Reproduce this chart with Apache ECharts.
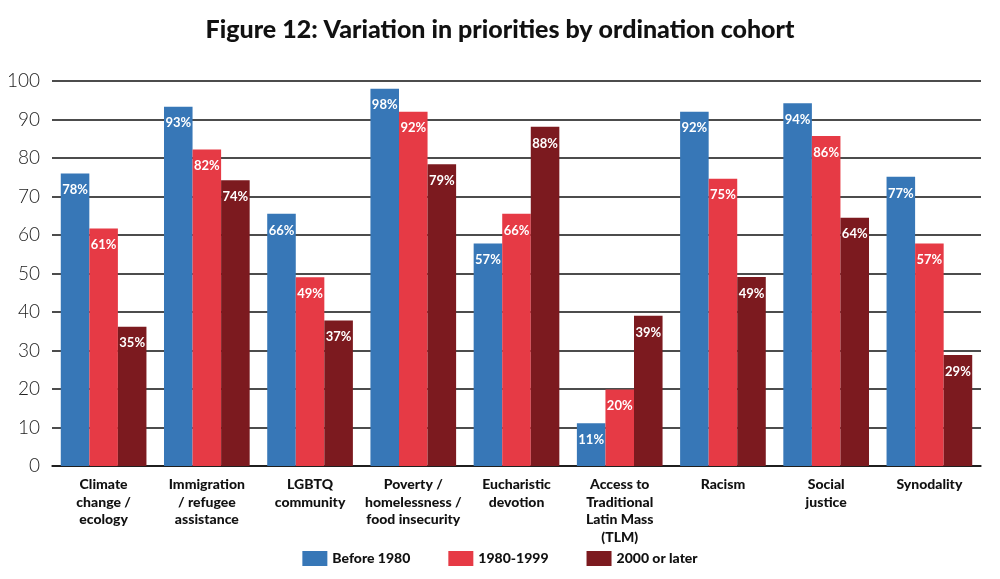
<!DOCTYPE html>
<html lang="en">
<head>
    <meta charset="UTF-8">
    <title>Figure 12</title>
    <script src="https://cdn.jsdelivr.net/npm/echarts@6.0.0/dist/echarts.min.js"></script>
</head>
<style>
    html, body { margin: 0; padding: 0; background: #fff; }
    #main { width: 1000px; height: 579px; }
</style>
<body>
<div id="main"></div>
<script type="text/javascript">
    // categories (x axis)
    var categories = [
        'Climate\nchange /\necology',
        'Immigration\n/ refugee\nassistance',
        'LGBTQ\ncommunity',
        'Poverty /\nhomelessness /\nfood insecurity',
        'Eucharistic\ndevotion',
        'Access to\nTraditional\nLatin Mass\n(TLM)',
        'Racism',
        'Social\njustice',
        'Synodality'
    ];
    var seriesNames = ['Before 1980', '1980-1999', '2000 or later'];
    var colors = ['#3777b7', '#e63a45', '#7c1a1f'];

    // bar heights as drawn
    var before1980 = [76, 93.3, 65.5, 98, 57.8, 11.1, 92, 94.2, 75.1];
    var from1980to1999 = [61.7, 82.2, 49, 92, 65.5, 19.9, 74.6, 85.7, 57.8];
    var after2000 = [36.2, 74.2, 37.8, 78.4, 88.1, 39, 49.1, 64.5, 28.8];

    // printed labels on the bars
    var labelsBefore = [78, 93, 66, 98, 57, 11, 92, 94, 77];
    var labelsMid = [61, 82, 49, 92, 66, 20, 75, 86, 57];
    var labelsAfter = [35, 74, 37, 79, 88, 39, 49, 64, 29];

    var yTicks = [0, 10, 20, 30, 40, 50, 60, 70, 80, 90, 100];

    var catFont = 'Lato';

    function makeSeries(name, data, labels, color) {
        return {
            name: name,
            type: 'bar',
            data: data,
            barGap: 0,
            barCategoryGap: '17%',
            itemStyle: { color: color },
            label: {
                show: true,
                position: 'insideTop',
                distance: 10,
                color: '#fff',
                fontFamily: 'Lato',
                fontWeight: 'bold',
                fontSize: 13,
                formatter: function (p) { return labels[p.dataIndex] + '%'; }
            }
        };
    }

    var myChart = echarts.init(document.getElementById('main'));

    var option = {
        animation: false,
        color: colors,
        title: {
            text: 'Figure 12: Variation in priorities by ordination cohort',
            left: 'center',
            top: 12,
            textStyle: {
                fontFamily: catFont,
                fontWeight: 900,
                fontSize: 25,
                color: '#111'
            }
        },
        legend: {
            bottom: 8,
            left: 'center',
            itemWidth: 25,
            itemHeight: 15,
            itemGap: 38,
            icon: 'rect',
            textStyle: { fontFamily: catFont, fontWeight: 900, fontSize: 14, color: '#111' },
            data: seriesNames
        },
        grid: { left: 52, right: 19, top: 81, bottom: 113 },
        xAxis: {
            type: 'category',
            data: categories,
            axisTick: { show: false },
            axisLine: { lineStyle: { color: '#111', width: 1.5 } },
            axisLabel: {
                interval: 0,
                margin: 10,
                fontFamily: catFont,
                fontWeight: 900,
                fontSize: 14,
                lineHeight: 17.5,
                color: '#111'
            }
        },
        yAxis: {
            type: 'value',
            min: yTicks[0],
            max: yTicks[yTicks.length - 1],
            interval: 10,
            axisLine: { show: false },
            axisTick: { show: false },
            splitLine: { lineStyle: { color: '#111', width: 1.5 } },
            axisLabel: {
                margin: 12,
                fontFamily: 'Lato',
                fontWeight: 300,
                fontSize: 19,
                color: '#222'
            }
        },
        series: [
            makeSeries(seriesNames[0], before1980, labelsBefore, colors[0]),
            makeSeries(seriesNames[1], from1980to1999, labelsMid, colors[1]),
            makeSeries(seriesNames[2], after2000, labelsAfter, colors[2])
        ]
    };

    myChart.setOption(option);
</script>
</body>
</html>
